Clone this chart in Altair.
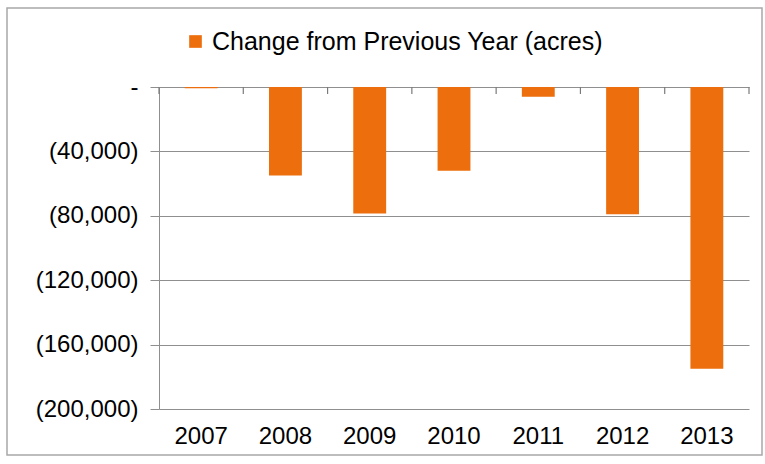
import altair as alt
import pandas as pd

years = ["2007", "2008", "2009", "2010", "2011", "2012", "2013"]
changes = [-800, -55000, -78500, -52000, -6000, -79000, -175000]
series_name = "Change from Previous Year (acres)"
y_ticks = [0, -40000, -80000, -120000, -160000, -200000]

df = pd.DataFrame({"year": years, "change": changes, "series": series_name})

W, H = 590, 322
FONT = "Liberation Sans"
GRAY = "#8f8f8f"
ORANGE = "#EC6E0C"
NB = "\u00a0"

x_scale = alt.Scale(paddingInner=0, paddingOuter=0)

y_enc = alt.Y(
    "change:Q",
    scale=alt.Scale(domain=[-200000, 0], nice=False, zero=True),
    axis=alt.Axis(
        values=y_ticks,
        title=None,
        grid=True,
        gridColor=GRAY,
        gridWidth=1,
        domain=True,
        domainColor=GRAY,
        ticks=True,
        tickColor=GRAY,
        tickSize=9,
        labelFont=FONT,
        labelFontSize=24,
        labelColor="#000000",
        labelPadding=12,
        labelExpr="datum.value == 0 ? '-" + NB * 4 + "' : '(' + format(-datum.value, ',') + ')'",
    ),
)

color_enc = alt.Color(
    "series:N",
    scale=alt.Scale(range=[ORANGE]),
    legend=alt.Legend(
        title=None,
        orient="none",
        legendX=24,
        legendY=-58,
        symbolType="square",
        symbolSize=160,
        symbolStrokeWidth=0,
        labelFont=FONT,
        labelFontSize=25,
        labelColor="#000000",
        labelOffset=4,
        labelLimit=0,
        padding=0,
    ),
)

bars = alt.Chart(df).mark_bar(width=alt.RelativeBandSize(0.39)).encode(
    x=alt.X(
        "year:N",
        sort=years,
        scale=x_scale,
        axis=alt.Axis(
            orient="bottom",
            title=None,
            domain=False,
            ticks=False,
            tickSize=0,
            grid=False,
            labelAngle=0,
            labelFont=FONT,
            labelFontSize=24,
            labelColor="#000000",
            labelPadding=15,
        ),
    ),
    y=y_enc,
    color=color_enc,
)

ticks_left = alt.Chart(df).mark_rule(color="#7a7a7a", strokeWidth=1.2).encode(
    x=alt.X("year:N", sort=years, bandPosition=0),
    y=alt.value(0),
    y2=alt.value(7),
)

ticks_right = (
    alt.Chart(df)
    .transform_filter(alt.datum.year == years[-1])
    .mark_rule(color="#7a7a7a", strokeWidth=1.2)
    .encode(
        x=alt.X("year:N", sort=years, bandPosition=1),
        y=alt.value(0),
        y2=alt.value(7),
    )
)

frame = alt.Chart(pd.DataFrame({"k": [0]})).mark_rect(
    filled=False, stroke="#a8a8a8", strokeWidth=1.5
).encode(
    x=alt.value(-152), x2=alt.value(603), y=alt.value(-79), y2=alt.value(368)
)

chart = (
    alt.layer(bars, ticks_left, ticks_right, frame)
    .properties(
        width=W,
        height=H,
        autosize=alt.AutoSizeParams(type="none"),
        padding={"left": 159, "top": 87, "right": 16, "bottom": 55},
        background="white",
    )
    .configure_view(strokeWidth=0)
)

chart.save("out.html", embed_options={"renderer": "svg", "actions": False})
